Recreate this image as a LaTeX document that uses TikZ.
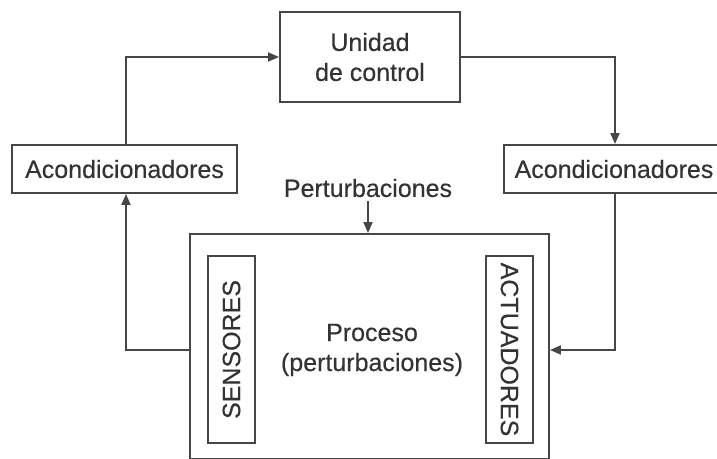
\documentclass[tikz,border=0pt]{standalone}
\usepackage{fontspec}
\setmainfont{Liberation Sans}[FakeBold=0.35]
\usetikzlibrary{arrows.meta}
\definecolor{ln}{HTML}{464646}
\definecolor{tx}{HTML}{333333}
\tikzset{
  box/.style={draw=ln, line width=1.9pt, text=tx, font=\fontsize{25}{30}\selectfont, align=center, inner sep=0pt},
  lbl/.style={text=tx, font=\fontsize{25}{30}\selectfont, align=center, inner sep=0pt},
  arr/.style={draw=ln, line width=1.9pt, -{Triangle[length=11pt,width=9pt]}},
}
\begin{document}
\begin{tikzpicture}[x=1pt,y=-1pt]
\clip (0,0) rectangle (717,458);
\node[box, minimum width=180pt, minimum height=90pt] (unidad) at (370,57) {Unidad\\de control};
\node[box, minimum width=225pt, minimum height=48pt] (lacond) at (124.5,169) {Acondicionadores};
\node[box, minimum width=220pt, minimum height=48pt] (racond) at (614,169) {Acondicionadores};
\node[lbl] (pert) at (368,188) {Perturbaciones};
\node[box, minimum width=359pt, minimum height=225pt] (proc) at (369.5,346.5) {};
\node[box, minimum width=47pt, minimum height=187pt] (sens) at (231.5,349.5) {};
\node[lbl, rotate=90] (senst) at (231.5,349.5) {SENSORES};
\node[box, minimum width=47pt, minimum height=187pt] (actu) at (509.5,349.5) {};
\node[lbl, rotate=-90] (actut) at (509.5,349.5) {ACTUADORES};
\node[lbl] (proct) at (372,350) {Proceso\\(perturbaciones)};
\coordinate (lc) at (126,193);
\coordinate (rc) at (615,193);
\draw[arr] (lc |- lacond.north) |- (unidad.west);
\draw[arr] (unidad.east) -| (rc |- racond.north);
\draw[arr] (pert.south) ++(0,4) -- (pert.south |- proc.north);
\draw[arr] (proc.west |- 0,350) -| (lc |- lacond.south);
\draw[arr] (rc |- racond.south) |- (proc.east |- 0,350);
\end{tikzpicture}
\end{document}
